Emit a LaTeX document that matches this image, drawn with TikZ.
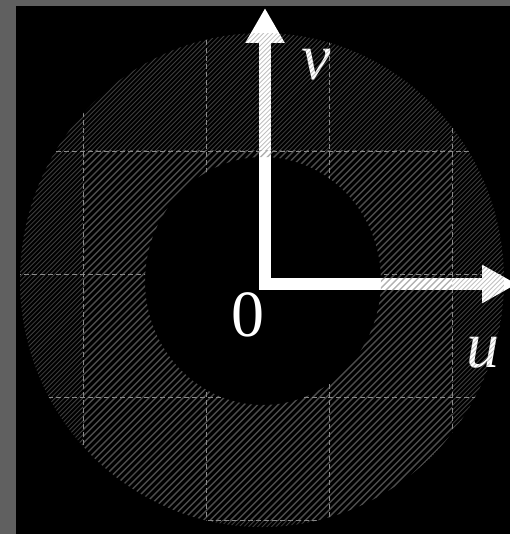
\documentclass[tikz,border=0pt]{standalone}
\usepackage{fontspec}
\setmainfont{Liberation Serif}
\usetikzlibrary{arrows.meta}
\definecolor{bordergray}{RGB}{96,96,96}
\definecolor{gridgray}{RGB}{140,140,140}
\tikzset{
  gridline/.style={draw=gridgray, line width=0.8pt, dash pattern=on 5pt off 3pt},
  axis/.style={draw=white, line width=12pt, line join=miter,
    {Triangle[length=35pt,width=37pt]}-{Triangle[length=35pt,width=36pt]}},
  lab/.style={text=white, inner sep=0pt, font=\fontsize{66}{66}\selectfont},
  finehatch/.style={draw=gray, line width=0.8pt, draw opacity=0.5},
  coarsehatch/.style={draw=gray, line width=1.4pt, draw opacity=0.6}
}
\begin{document}
\begin{tikzpicture}[x=1pt,y=-1pt]
\useasboundingbox (0,0) rectangle (510,534);
\fill[bordergray] (0,0) rectangle (510,534);
\fill[black] (16,6) rectangle (510,534);
% grid clipped to annulus
\begin{scope}[even odd rule]
  \clip (262,280) ellipse (242pt and 247pt) (263,281) ellipse (118pt and 124pt);
  \foreach \gx in {83,206,329,452} \draw[gridline] (\gx,0) -- (\gx,534);
  \foreach \gy in {151,274,397,520} \draw[gridline] (0,\gy) -- (510,\gy);
\end{scope}
% axes
\coordinate (O) at (265,284);
\coordinate (vtip) at (265,8);
\coordinate (utip) at (517,284);
\draw[axis] (vtip) -- (O) -- (utip);
\node[lab, font=\fontsize{66}{66}\selectfont\itshape] (v) at (316,65) {v};
\node[lab, font=\fontsize{66}{66}\selectfont\itshape] (u) at (483,353) {u};
\node[lab] (zero) at (248,315) {0};
% fine hatch: annulus outside rectangle
\begin{scope}[even odd rule]
  \clip (0,0) rectangle (510,534) (83,151) rectangle (452,520);
  \clip (262,280) ellipse (242pt and 247pt) (263,281) ellipse (118pt and 124pt);
  \foreach \c in {30,34.6,...,1060} \draw[finehatch] (\c,0) -- ({\c-534},534);
\end{scope}
% coarse hatch: annulus inside rectangle
\begin{scope}[even odd rule]
  \clip (83,151) rectangle (452,520);
  \clip (262,280) ellipse (242pt and 247pt) (263,281) ellipse (118pt and 124pt);
  \foreach \c in {30,36.8,...,1060} \draw[coarsehatch] (\c,0) -- ({\c-534},534);
\end{scope}
\end{tikzpicture}
\end{document}
